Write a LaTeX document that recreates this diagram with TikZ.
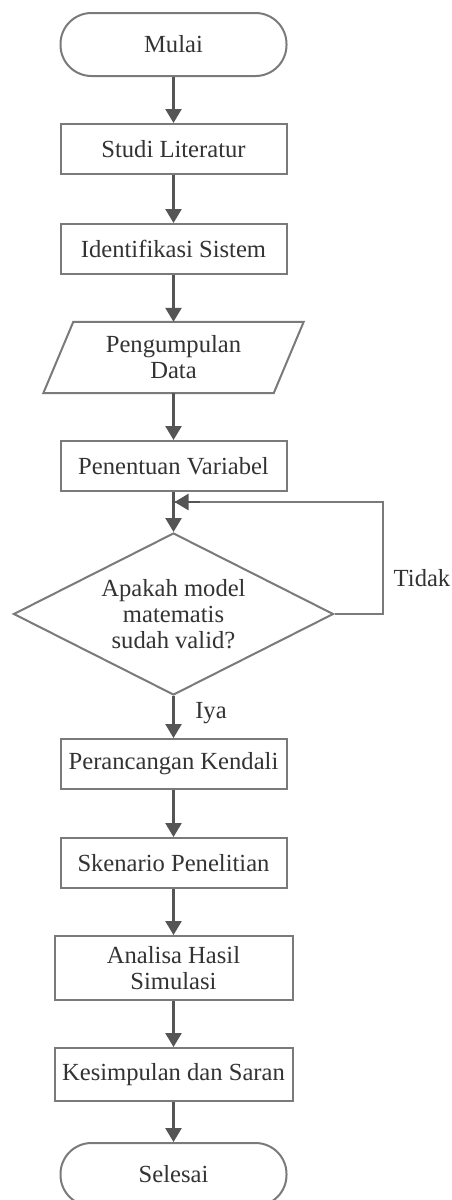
\documentclass[tikz,border=0pt]{standalone}
\usepackage{fontspec}
\setmainfont{Liberation Serif}
\usetikzlibrary{arrows.meta,shapes.geometric}
\definecolor{boxgray}{HTML}{7A7A7A}
\definecolor{arrgray}{HTML}{555555}
\definecolor{txtgray}{HTML}{333333}
\begin{document}
\begin{tikzpicture}[x=1pt,y=-1pt,
  every node/.style={font=\fontsize{24.6}{26}\selectfont, text=txtgray, align=center, inner sep=0pt},
  procbox/.style={draw=boxgray, line width=2pt, rectangle, minimum width=226, minimum height=50},
  termbox/.style={draw=boxgray, line width=2pt, rectangle, rounded corners=31pt, minimum width=226, minimum height=63},
  decbox/.style={draw=boxgray, line width=2pt, diamond, shape aspect=2, minimum width=320, minimum height=162},
  flow/.style={draw=arrgray, line width=2.5pt, -{Triangle[width=16pt,length=14pt]}},
  loopline/.style={draw=boxgray, line width=2.5pt}
]
\fill[white] (0,0) rectangle (452,1200);
\useasboundingbox (0,0) rectangle (452,1200);

% process steps
\node[termbox] (mulai) at (173.5,44.5) {Mulai};
\node[procbox] (studi) at (173.5,149) {Studi Literatur};
\node[procbox] (ident) at (173.5,249) {Identifikasi Sistem};
\node[minimum width=230, minimum height=71] (data) at (173.5,357.5) {Pengumpulan\\Data};
\draw[boxgray, line width=2pt, line join=miter]
  ([xshift=15pt]data.north west) -- ([xshift=15pt]data.north east)
  -- ([xshift=-15pt]data.south east) -- ([xshift=-15pt]data.south west) -- cycle;
\node[procbox] (var) at (173.5,466) {Penentuan Variabel};
\node[decbox] (valid) at (173.5,614) {Apakah model\\matematis\\sudah valid?};
\node[procbox] (kendali) at (173.5,764) {Perancangan Kendali};
\node[procbox] (skenario) at (173.5,863) {Skenario Penelitian};
\node[procbox, minimum width=238, minimum height=64] (analisa) at (173.5,968) {Analisa Hasil\\Simulasi};
\node[procbox, minimum width=238, minimum height=53] (simpul) at (173.5,1074.5) {Kesimpulan dan Saran};
\node[termbox] (selesai) at (173.5,1174.5) {Selesai};

% connectors
\draw[flow] (mulai) -- (studi);
\draw[flow] (studi) -- (ident);
\draw[flow] (ident.south) -- (data.north);
\draw[flow] (data.south) -- (var.north);
\draw[flow] (var) -- (valid.north);
\draw[flow] (valid.south) -- (kendali.north);
\draw[flow] (kendali) -- (skenario);
\draw[flow] (skenario) -- (analisa);
\draw[flow] (analisa) -- (simpul);
\draw[flow] (simpul) -- (selesai);

% loop back when the model is not valid
\coordinate (join) at (174.5,502);
\coordinate (loopR) at (383,614);
\coordinate (loopTop) at (200,502);
\draw[loopline] (valid.east) -- (loopR) |- (join);
\draw[flow] (loopTop) -- (join);

% branch labels
\node (tidak) at (422,578) {Tidak};
\node (iya) at (211,713) {Iya};
\end{tikzpicture}
\end{document}
